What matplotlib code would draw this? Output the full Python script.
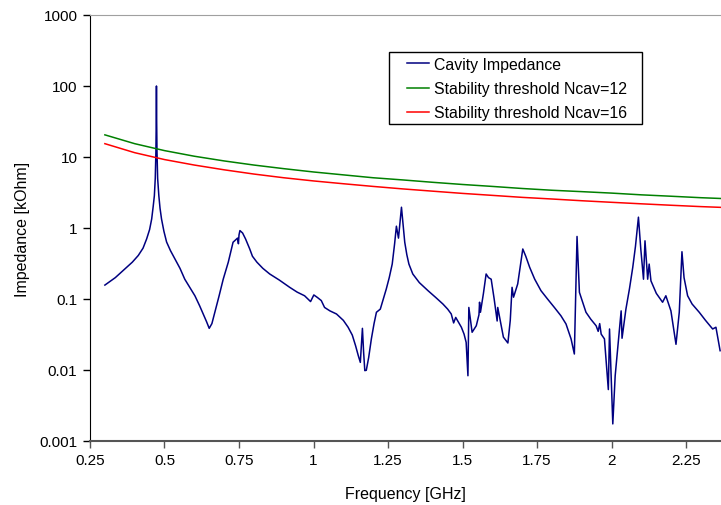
import numpy as np
import matplotlib
matplotlib.use("Agg")
from matplotlib import pyplot as plt
from matplotlib.ticker import NullLocator
from matplotlib.patches import Rectangle

plt.rcParams['font.family'] = ['Liberation Sans', 'DejaVu Sans']

# Impedancia de la cavidad
freq_cav = [0.300, 0.335, 0.367, 0.392, 0.412, 0.428, 0.440, 0.450, 0.457, 0.462,
            0.466, 0.469, 0.4712, 0.4722, 0.473, 0.4738, 0.4748, 0.477, 0.481, 0.485,
            0.490, 0.498, 0.507, 0.520, 0.535, 0.552, 0.568, 0.585, 0.602, 0.618,
            0.630, 0.641, 0.650, 0.659, 0.669, 0.683, 0.697, 0.714, 0.730, 0.745,
            0.748, 0.750, 0.753, 0.762, 0.772, 0.786, 0.795, 0.810, 0.830, 0.853,
            0.885, 0.920, 0.945, 0.970, 0.990, 1.001, 1.013, 1.026, 1.037, 1.055,
            1.077, 1.100, 1.116, 1.130, 1.141, 1.150, 1.157, 1.164, 1.168, 1.172,
            1.177, 1.185, 1.194, 1.203, 1.211, 1.224, 1.234, 1.244, 1.254, 1.264,
            1.272, 1.278, 1.285, 1.295, 1.306, 1.313, 1.320, 1.333, 1.355, 1.384,
            1.410, 1.434, 1.450, 1.462, 1.470, 1.477, 1.496, 1.505, 1.512, 1.518,
            1.521, 1.532, 1.546, 1.555, 1.557, 1.560, 1.570, 1.579, 1.587, 1.596,
            1.606, 1.616, 1.618, 1.637, 1.652, 1.660, 1.666, 1.671, 1.685, 1.693,
            1.702, 1.712, 1.725, 1.742, 1.763, 1.785, 1.808, 1.830, 1.847, 1.864,
            1.875, 1.884, 1.892, 1.914, 1.930, 1.948, 1.955, 1.960, 1.965, 1.976,
            1.989, 1.993, 2.004, 2.012, 2.032, 2.035, 2.048, 2.060, 2.071, 2.080,
            2.090, 2.098, 2.107, 2.112, 2.121, 2.126, 2.132, 2.150, 2.171, 2.182,
            2.199, 2.216, 2.227, 2.236, 2.243, 2.255, 2.270, 2.294, 2.315, 2.339,
            2.350, 2.364]
z_cav = [0.157, 0.20, 0.265, 0.33, 0.41, 0.52, 0.70, 0.95, 1.34, 2.0,
         2.85, 5.0, 12.0, 30.0, 100.0, 30.0, 12.0, 5.0, 2.85, 1.9,
         1.34, 0.90, 0.635, 0.48, 0.366, 0.27, 0.19, 0.145, 0.111, 0.080,
         0.0615, 0.048, 0.0386, 0.045, 0.065, 0.11, 0.19, 0.33, 0.63, 0.72,
         0.60, 0.80, 0.92, 0.85, 0.70, 0.506, 0.40, 0.33, 0.27, 0.225,
         0.185, 0.146, 0.125, 0.111, 0.092, 0.114, 0.105, 0.095, 0.076, 0.068,
         0.0615, 0.050, 0.040, 0.031, 0.022, 0.016, 0.0128, 0.0386, 0.0178, 0.0098,
         0.0099, 0.015, 0.0274, 0.045, 0.065, 0.072, 0.10, 0.138, 0.20, 0.311,
         0.60, 1.06, 0.72, 1.96, 0.63, 0.42, 0.31, 0.225, 0.17, 0.131,
         0.105, 0.085, 0.072, 0.0615, 0.046, 0.055, 0.040, 0.032, 0.0245, 0.0083,
         0.076, 0.034, 0.042, 0.06, 0.09, 0.065, 0.12, 0.225, 0.20, 0.19,
         0.10, 0.049, 0.076, 0.029, 0.024, 0.05, 0.146, 0.106, 0.163, 0.28,
         0.506, 0.40, 0.28, 0.19, 0.131, 0.10, 0.076, 0.058, 0.0445, 0.0274,
         0.0168, 0.76, 0.124, 0.065, 0.052, 0.042, 0.035, 0.045, 0.032, 0.0274,
         0.0053, 0.0378, 0.00174, 0.0083, 0.068, 0.028, 0.072, 0.14, 0.28, 0.55,
         1.42, 0.50, 0.19, 0.66, 0.19, 0.31, 0.18, 0.12, 0.09, 0.111,
         0.068, 0.023, 0.065, 0.463, 0.20, 0.111, 0.085, 0.065, 0.050, 0.0378,
         0.040, 0.0187]

# Umbrales de estabilidad
freq_umbral = [0.3, 0.4, 0.5, 0.6, 0.7, 0.8, 0.9, 1.0, 1.1, 1.2, 1.3,
               1.4, 1.5, 1.6, 1.7, 1.8, 1.9, 2.0, 2.1, 2.2, 2.3, 2.37]
umbral_12 = [20.5, 15.4, 12.3, 10.25, 8.8, 7.7, 6.85, 6.15, 5.6, 5.1, 4.75,
             4.4, 4.1, 3.85, 3.6, 3.4, 3.25, 3.1, 2.93, 2.8, 2.67, 2.6]
umbral_16 = [15.4, 11.5, 9.2, 7.7, 6.6, 5.75, 5.1, 4.6, 4.2, 3.85, 3.55,
             3.3, 3.07, 2.88, 2.7, 2.56, 2.42, 2.3, 2.19, 2.09, 2.0, 1.95]

xticks = [0.25, 0.5, 0.75, 1.0, 1.25, 1.5, 1.75, 2.0, 2.25]
xtick_labels = ['0.25', '0.5', '0.75', '1', '1.25', '1.5', '1.75', '2', '2.25']
yticks = [0.001, 0.01, 0.1, 1, 10, 100, 1000]
ytick_labels = ['0.001', '0.01', '0.1', '1', '10', '100', '1000']

fig = plt.figure(figsize=(7.21, 5.06), dpi=100)
ax = fig.add_axes([0.1248, 0.1265, 0.8752, 0.8419])

ax.plot(freq_cav, z_cav, color='#000080', linewidth=1.1, label='Cavity Impedance')
ax.plot(freq_umbral, umbral_12, color='#008000', linewidth=1.1, label='Stability threshold Ncav=12')
ax.plot(freq_umbral, umbral_16, color='#ff0000', linewidth=1.1, label='Stability threshold Ncav=16')

ax.set_yscale('log')
ax.set_xlim(0.25, 2.367)
ax.set_ylim(0.001, 1000)
ax.set_xticks(xticks)
ax.set_xticklabels(xtick_labels)
ax.set_yticks(yticks)
ax.set_yticklabels(ytick_labels)
ax.yaxis.set_minor_locator(NullLocator())
ax.tick_params(axis='both', direction='out', length=5, width=1, labelsize=11, pad=4)
ax.tick_params(axis='x', colors='#555555', labelcolor='black')

ax.spines['right'].set_visible(False)
ax.spines['top'].set_color('#a0a0a0')
ax.spines['bottom'].set_color('#555555')
ax.spines['bottom'].set_linewidth(1.5)
ax.spines['left'].set_color('black')

ax.set_xlabel('Frequency [GHz]', fontsize=11.5, labelpad=13)
ax.set_ylabel('Impedance [kOhm]', fontsize=11.5, labelpad=7)

# leyenda sin marco, el marco se dibuja aparte
leg = ax.legend(loc='upper left', bbox_to_anchor=(0.5645, 0.8854),
                bbox_transform=fig.transFigure, fontsize=11.4, frameon=False,
                handlelength=1.4, handletextpad=0.3, labelspacing=0.58,
                borderpad=0, borderaxespad=0)
marco = Rectangle((0.5395, 0.7530), 0.3509, 0.1423, transform=fig.transFigure,
                  facecolor='none', edgecolor='black', linewidth=1.0)
fig.patches.append(marco)

fig.savefig('out.png', dpi=100)
